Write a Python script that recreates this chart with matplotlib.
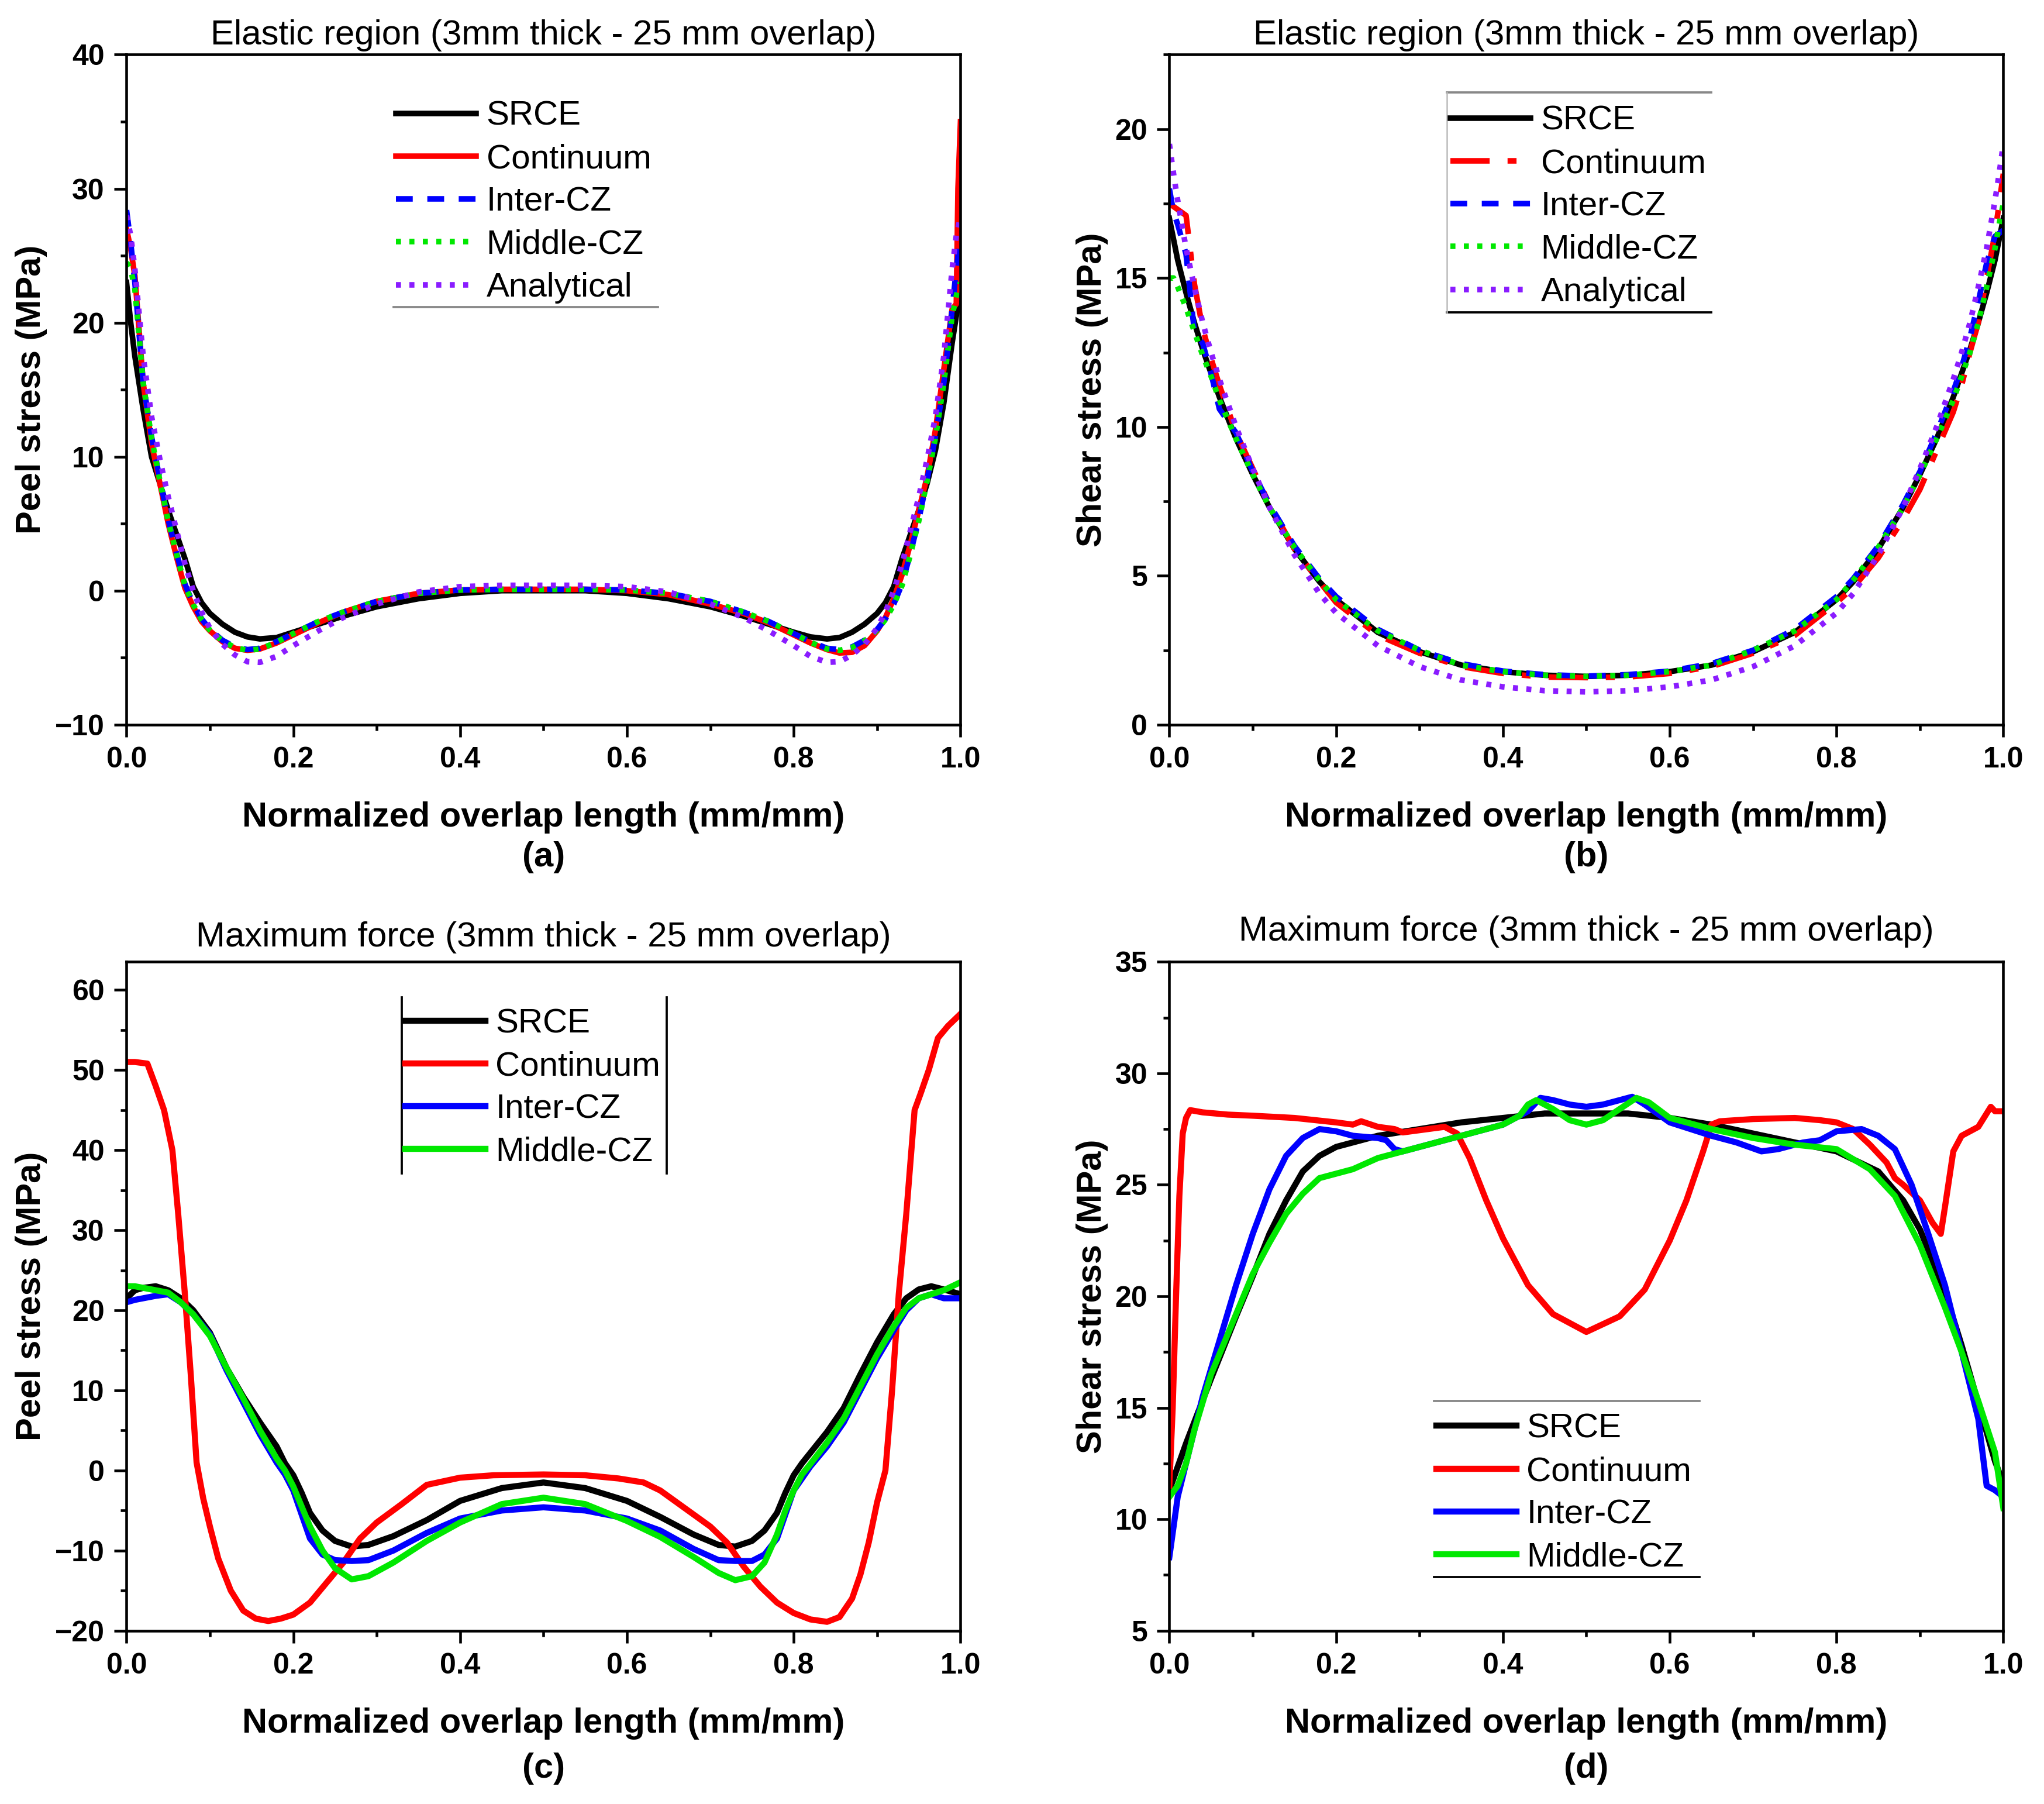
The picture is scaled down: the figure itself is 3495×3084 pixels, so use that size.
import matplotlib
matplotlib.use("Agg")
import matplotlib.pyplot as plt
from matplotlib.lines import Line2D
from matplotlib.ticker import MultipleLocator, FormatStrFormatter, FuncFormatter

plt.rcParams['font.family'] = ['Liberation Sans', 'DejaVu Sans']

# ---------------- data: panel (a) peel stress, elastic region ----------------
xa = [0, 0.005, 0.01, 0.02, 0.03, 0.04, 0.05, 0.06, 0.07, 0.08, 0.09, 0.10, 0.115, 0.13,
      0.145, 0.16, 0.18, 0.20, 0.23, 0.26, 0.30, 0.35, 0.40, 0.45, 0.50, 0.55, 0.60, 0.65,
      0.70, 0.74, 0.77, 0.80, 0.82, 0.84, 0.855, 0.87, 0.885, 0.90, 0.91, 0.92, 0.93, 0.94,
      0.95, 0.96, 0.97, 0.98, 0.99, 0.995, 0.997, 1.0]
a_srce = [23, 20, 17.5, 13.5, 10, 8, 6, 4.2, 2.4, 0.3, -0.9, -1.7, -2.5, -3.1, -3.45, -3.6,
          -3.5, -3.1, -2.5, -1.9, -1.2, -0.6, -0.2, 0, 0, 0, -0.2, -0.6, -1.2, -1.9, -2.5,
          -3.1, -3.45, -3.6, -3.5, -3.1, -2.5, -1.7, -0.9, 0.3, 2.4, 4.2, 6, 8, 10.5, 14,
          18.5, 20.5, 21.3, 22]
a_cont = [27, 25.5, 23.5, 15.5, 11, 8, 5, 2.5, 0.2, -1.2, -2.3, -3.0, -3.8, -4.3, -4.45,
          -4.35, -3.9, -3.3, -2.4, -1.6, -0.8, -0.2, 0.05, 0.1, 0.1, 0.1, 0.0, -0.3, -1.0,
          -1.7, -2.4, -3.3, -3.9, -4.4, -4.65, -4.6, -4.1, -3.0, -2.0, -0.6, 1.2, 3.5, 6,
          8.5, 12, 16.5, 21, 21.4, 30, 35]
a_inter = [28.4, 26, 23, 15.5, 11.5, 8.3, 5.3, 2.8, 0.5, -1.0, -2.1, -2.9, -3.7, -4.2, -4.4,
           -4.3, -3.8, -3.2, -2.3, -1.6, -0.8, -0.2, 0.05, 0.1, 0.1, 0.1, 0.05, -0.2, -0.8,
           -1.6, -2.3, -3.2, -3.8, -4.3, -4.4, -4.2, -3.7, -2.9, -2.1, -1.0, 0.5, 2.8, 5.3,
           8.3, 11.5, 15.5, 21, 24, 25, 26]
a_middle = [24.5, 24, 22.5, 15.5, 11.4, 8.2, 5.2, 2.7, 0.4, -1.05, -2.15, -2.95, -3.75,
            -4.25, -4.45, -4.35, -3.85, -3.2, -2.3, -1.6, -0.8, -0.2, 0.05, 0.1, 0.1, 0.1,
            0.05, -0.2, -0.8, -1.6, -2.3, -3.2, -3.85, -4.35, -4.45, -4.25, -3.75, -2.95,
            -2.15, -1.05, 0.4, 2.7, 5.2, 8.2, 11.4, 15.5, 20.5, 22, 22.5, 23]
a_anal = [28, 26.5, 24, 17.5, 13, 9.8, 7, 4.5, 2.0, 0, -1.6, -2.8, -4.0, -4.8, -5.3, -5.35,
          -4.9, -4.1, -3.0, -2.0, -1.0, -0.1, 0.3, 0.4, 0.4, 0.4, 0.3, -0.1, -1.0, -2.0,
          -3.0, -4.1, -4.9, -5.35, -5.3, -4.8, -4.0, -2.8, -1.6, 0, 2.0, 4.5, 7, 9.8, 13,
          17.5, 24, 26.5, 27, 28]

# ---------------- data: panel (b) shear stress, elastic region ----------------
xb = [0, 0.005, 0.01, 0.02, 0.03, 0.04, 0.05, 0.06, 0.08, 0.10, 0.12, 0.15, 0.18, 0.20,
      0.25, 0.30, 0.35, 0.40, 0.45, 0.50, 0.55, 0.60, 0.65, 0.70, 0.75, 0.80, 0.82, 0.85,
      0.88, 0.90, 0.92, 0.94, 0.95, 0.96, 0.97, 0.98, 0.99, 0.995, 1.0]
b_srce = [17, 16.3, 15.6, 14.5, 13.5, 12.6, 11.8, 11.0, 9.6, 8.4, 7.3, 5.9, 4.8, 4.2, 3.1,
          2.45, 2.0, 1.78, 1.66, 1.62, 1.66, 1.78, 2.0, 2.45, 3.1, 4.2, 4.8, 5.9, 7.3, 8.4,
          9.6, 11.0, 11.8, 12.6, 13.5, 14.5, 15.6, 16.3, 17]
b_cont = [17.5, 17.4, 17.3, 17.1, 14.8, 13.3, 12.3, 11.4, 9.8, 8.6, 7.4, 5.9, 4.8, 4.1, 3.0,
          2.4, 1.95, 1.72, 1.6, 1.58, 1.6, 1.72, 1.95, 2.4, 3.0, 4.1, 4.6, 5.6, 6.9, 7.9,
          9.2, 10.5, 11.4, 12.5, 13.5, 15.0, 16.5, 17.5, 18.5]
b_inter = [18, 17.2, 16.8, 15.8, 13.2, 12.8, 11.8, 10.6, 9.8, 8.5, 7.4, 6.0, 4.9, 4.3, 3.2,
           2.5, 2.05, 1.8, 1.68, 1.63, 1.68, 1.8, 2.05, 2.5, 3.2, 4.3, 4.9, 6.0, 7.4, 8.5,
           9.8, 11.2, 12.0, 13.0, 14.2, 15.5, 16.4, 16.5, 16.6]
b_middle = [15, 15, 14.7, 14, 13.2, 12.4, 11.7, 10.9, 9.6, 8.4, 7.3, 5.95, 4.85, 4.2, 3.15,
            2.5, 2.0, 1.78, 1.66, 1.62, 1.66, 1.78, 2.0, 2.5, 3.15, 4.2, 4.85, 5.95, 7.3,
            8.4, 9.6, 10.9, 11.7, 12.5, 13.5, 14.7, 16, 16.8, 17.5]
b_anal = [19.5, 18.5, 17.6, 16.0, 14.7, 13.5, 12.5, 11.6, 10.0, 8.6, 7.3, 5.7, 4.4, 3.75,
          2.65, 1.95, 1.5, 1.27, 1.14, 1.1, 1.14, 1.27, 1.5, 1.95, 2.65, 3.75, 4.4, 5.7,
          7.3, 8.6, 10.0, 11.6, 12.5, 13.5, 14.7, 16.0, 17.6, 18.5, 19.5]

# ---------------- data: panel (c) peel stress, maximum force ----------------
xc = [0, 0.01, 0.02, 0.035, 0.05, 0.065, 0.08, 0.10, 0.12, 0.14, 0.16, 0.18, 0.19, 0.20,
      0.21, 0.22, 0.235, 0.25, 0.27, 0.29, 0.32, 0.36, 0.40, 0.45, 0.50, 0.55, 0.60, 0.64,
      0.68, 0.71, 0.73, 0.75, 0.765, 0.78, 0.79, 0.80, 0.81, 0.82, 0.84, 0.86, 0.88, 0.90,
      0.92, 0.935, 0.95, 0.965, 0.98, 0.99, 1.0]
c_srce = [21.5, 22.5, 22.8, 23, 22.5, 21.5, 20, 17.2, 12.8, 9.2, 6, 3, 0.9, -0.6, -2.8, -5.3,
          -7.5, -8.8, -9.5, -9.3, -8.2, -6.2, -3.8, -2.2, -1.5, -2.2, -3.8, -5.8, -8.0, -9.3,
          -9.5, -8.8, -7.5, -5.3, -2.8, -0.6, 0.9, 2.2, 4.8, 7.8, 12, 16, 19.5, 21.5, 22.6,
          23, 22.6, 22.3, 22]
c_inter = [21, 21.3, 21.5, 21.8, 22, 21, 19.5, 17, 12.5, 8.5, 4.5, 1, -0.5, -2.5, -5.5, -8.5,
           -10.5, -11.2, -11.3, -11.2, -10, -7.8, -6, -5, -4.6, -5, -6, -7.5, -9.8, -11.2,
           -11.3, -11.3, -10.5, -8.5, -5.5, -2.5, -1, 0.5, 3, 6, 10, 14, 17.5, 20, 21.5, 22,
           21.5, 21.5, 21.5]
c_middle = [23, 23, 22.8, 22.5, 22.2, 21, 19.5, 16.8, 12.8, 9, 5, 1.5, 0, -2, -4.5, -7, -10,
            -12.2, -13.6, -13.2, -11.5, -8.8, -6.5, -4.2, -3.4, -4.2, -6.3, -8.3, -10.8,
            -12.8, -13.7, -13.2, -11.5, -8.0, -5, -2.5, -0.5, 0.8, 3.5, 6.5, 10.5, 14.5, 18,
            20.3, 21.5, 22, 22.5, 23, 23.5]
xc_cont = [0, 0.01, 0.025, 0.035, 0.045, 0.055, 0.062, 0.07, 0.077, 0.084, 0.092, 0.10,
           0.11, 0.125, 0.14, 0.155, 0.17, 0.185, 0.20, 0.22, 0.24, 0.26, 0.28, 0.30, 0.33,
           0.36, 0.40, 0.44, 0.50, 0.55, 0.59, 0.62, 0.64, 0.66, 0.68, 0.70, 0.72, 0.74,
           0.76, 0.78, 0.80, 0.82, 0.84, 0.855, 0.87, 0.88, 0.89, 0.90, 0.91, 0.918, 0.926,
           0.935, 0.945, 0.952, 0.962, 0.973, 0.985, 1.0]
c_cont = [51, 51, 50.8, 48, 45, 40, 32, 22, 12, 1, -3.5, -7, -11, -15, -17.5, -18.5, -18.8,
          -18.5, -18, -16.5, -14, -11.5, -8.5, -6.5, -4.2, -1.8, -0.9, -0.6, -0.5, -0.6,
          -1.0, -1.5, -2.5, -4, -5.5, -7, -9, -12, -14.5, -16.5, -17.8, -18.6, -18.9, -18.3,
          -16, -13, -9, -4, 0, 10, 22, 32, 45, 47, 50, 54, 55.5, 57]

# ---------------- data: panel (d) shear stress, maximum force ----------------
xd_srce = [0, 0.02, 0.05, 0.08, 0.10, 0.12, 0.14, 0.16, 0.18, 0.20, 0.25, 0.30, 0.35, 0.40,
           0.45, 0.50, 0.55, 0.60, 0.65, 0.70, 0.75, 0.80, 0.85, 0.88, 0.90, 0.93, 0.95,
           0.97, 0.99, 1.0]
d_srce = [11.3, 13.4, 16.3, 19.1, 20.9, 22.8, 24.3, 25.6, 26.3, 26.7, 27.2, 27.5, 27.8, 28.0,
          28.2, 28.2, 28.2, 28.0, 27.7, 27.3, 26.9, 26.5, 25.6, 24.3, 23.0, 20.2, 17.8, 15.2,
          12.6, 11.6]
xd_cont = [0, 0.004, 0.008, 0.012, 0.016, 0.02, 0.025, 0.04, 0.07, 0.10, 0.15, 0.20, 0.22,
           0.23, 0.25, 0.27, 0.28, 0.30, 0.33, 0.345, 0.36, 0.38, 0.40, 0.43, 0.46, 0.50,
           0.54, 0.57, 0.60, 0.62, 0.64, 0.65, 0.66, 0.70, 0.75, 0.78, 0.80, 0.82, 0.84,
           0.86, 0.87, 0.88, 0.90, 0.915, 0.925, 0.93, 0.94, 0.95, 0.97, 0.985, 0.99, 1.0]
d_cont = [11.5, 15, 20, 24.5, 27.3, 28.0, 28.35, 28.25, 28.15, 28.1, 28.0, 27.8, 27.7, 27.85,
          27.6, 27.5, 27.35, 27.45, 27.6, 27.3, 26.2, 24.3, 22.6, 20.5, 19.2, 18.4, 19.1,
          20.3, 22.5, 24.3, 26.5, 27.7, 27.85, 27.95, 28.0, 27.9, 27.8, 27.5, 26.8, 26.0,
          25.3, 25.0, 24.3, 23.3, 22.8, 24.0, 26.5, 27.2, 27.6, 28.5, 28.3, 28.3]
xd_inter = [0, 0.01, 0.02, 0.04, 0.06, 0.08, 0.10, 0.12, 0.14, 0.16, 0.18, 0.20, 0.22, 0.25,
            0.26, 0.27, 0.28, 0.30, 0.35, 0.40, 0.43, 0.445, 0.46, 0.48, 0.50, 0.52, 0.54,
            0.555, 0.57, 0.60, 0.65, 0.68, 0.71, 0.73, 0.76, 0.78, 0.80, 0.83, 0.85, 0.87,
            0.89, 0.91, 0.93, 0.95, 0.97, 0.98, 0.99, 1.0]
d_inter = [8.3, 11, 12.5, 15.5, 18, 20.5, 22.8, 24.8, 26.3, 27.1, 27.5, 27.4, 27.2, 27.1,
           27.0, 26.6, 26.5, 26.7, 27.2, 27.7, 28.3, 28.9, 28.8, 28.6, 28.5, 28.6, 28.8,
           28.95, 28.6, 27.8, 27.2, 26.9, 26.5, 26.6, 26.9, 27.0, 27.4, 27.5, 27.2, 26.6,
           25.0, 22.8, 20.5, 17.5, 14.5, 11.5, 11.3, 11.0]
xd_middle = [0, 0.01, 0.02, 0.03, 0.05, 0.07, 0.08, 0.10, 0.12, 0.14, 0.16, 0.18, 0.20, 0.22,
             0.25, 0.30, 0.35, 0.40, 0.42, 0.43, 0.44, 0.46, 0.48, 0.50, 0.52, 0.54, 0.56,
             0.575, 0.60, 0.65, 0.70, 0.75, 0.80, 0.84, 0.87, 0.90, 0.93, 0.95, 0.97, 0.99,
             1.0]
d_middle = [11, 11.5, 12.5, 14, 16.5, 18.3, 19.2, 21.0, 22.4, 23.7, 24.6, 25.3, 25.5, 25.7,
            26.2, 26.7, 27.2, 27.7, 28.1, 28.6, 28.8, 28.4, 27.9, 27.7, 27.9, 28.4, 28.9,
            28.7, 28.0, 27.5, 27.1, 26.8, 26.6, 25.7, 24.5, 22.3, 19.5, 17.5, 15.3, 13.0,
            10.5]

labels5 = ["SRCE", "Continuum", "Inter-CZ", "Middle-CZ", "Analytical"]
titles = ["Elastic region (3mm thick - 25 mm overlap)",
          "Elastic region (3mm thick - 25 mm overlap)",
          "Maximum force (3mm thick - 25 mm overlap)",
          "Maximum force (3mm thick - 25 mm overlap)"]
ylabels = ["Peel stress (MPa)", "Shear stress (MPa)", "Peel stress (MPa)", "Shear stress (MPa)"]
panel_tags = ["(a)", "(b)", "(c)", "(d)"]
xlabel = "Normalized overlap length (mm/mm)"

BLACK, RED, BLUE, GREEN, PURPLE = "#000000", "#FF0000", "#0000FF", "#00E800", "#8A1CFF"

fig = plt.figure(figsize=(3495 / 300, 3084 / 300), dpi=300)
W, H = 0.408, 0.3714
axA = fig.add_axes([0.0619, 0.5983, W, H])
axB = fig.add_axes([0.5721, 0.5983, W, H])
axC = fig.add_axes([0.0619, 0.0961, W, 0.3707])
axD = fig.add_axes([0.5721, 0.0961, W, 0.3707])
axes = [axA, axB, axC, axD]

lw_e = 2.3
# panel (a)
axA.plot(xa, a_srce, color=BLACK, lw=lw_e, label=labels5[0])
axA.plot(xa, a_cont, color=RED, lw=lw_e, label=labels5[1])
axA.plot(xa, a_inter, color=BLUE, lw=lw_e, dashes=(3, 2.6), label=labels5[2])
axA.plot(xa, a_middle, color=GREEN, lw=lw_e, dashes=(0.9, 1.5), label=labels5[3])
axA.plot(xa, a_anal, color=PURPLE, lw=lw_e, dashes=(0.9, 1.5), label=labels5[4])

# panel (b)
axB.plot(xb, b_srce, color=BLACK, lw=lw_e, label=labels5[0])
axB.plot(xb, b_cont, color=RED, lw=lw_e, dashes=(7, 3.2, 1.6, 3.2), label=labels5[1])
axB.plot(xb, b_inter, color=BLUE, lw=lw_e, dashes=(3, 2.6), label=labels5[2])
axB.plot(xb, b_middle, color=GREEN, lw=lw_e, dashes=(0.9, 1.5), label=labels5[3])
axB.plot(xb, b_anal, color=PURPLE, lw=lw_e, dashes=(0.9, 1.5), label=labels5[4])

lw_m = 2.5
# panel (c)
axC.plot(xc, c_srce, color=BLACK, lw=lw_m, label=labels5[0])
axC.plot(xc_cont, c_cont, color=RED, lw=lw_m, label=labels5[1])
axC.plot(xc, c_inter, color=BLUE, lw=lw_m, label=labels5[2])
axC.plot(xc, c_middle, color=GREEN, lw=lw_m, label=labels5[3])

# panel (d)
axD.plot(xd_srce, d_srce, color=BLACK, lw=lw_m, label=labels5[0])
axD.plot(xd_cont, d_cont, color=RED, lw=lw_m, label=labels5[1])
axD.plot(xd_inter, d_inter, color=BLUE, lw=lw_m, label=labels5[2])
axD.plot(xd_middle, d_middle, color=GREEN, lw=lw_m, label=labels5[3])

ylims = [(-10, 40), (0, 22.5), (-20, 63.5), (5, 35)]
ymaj = [10, 5, 10, 5]
title_y = [1.029, 1.029, 1.037, 1.045]
ylab_x = [-0.095, -0.073, -0.095, -0.073]
tag_y = [-0.198, -0.198, -0.206, -0.206]
for ax, t, yl, tag, lim, mj, ty, lx, tgy in zip(axes, titles, ylabels, panel_tags, ylims,
                                                 ymaj, title_y, ylab_x, tag_y):
    ax.set_xlim(0, 1)
    ax.set_ylim(*lim)
    ax.xaxis.set_major_locator(MultipleLocator(0.2))
    ax.xaxis.set_minor_locator(MultipleLocator(0.1))
    ax.yaxis.set_major_locator(MultipleLocator(mj))
    ax.yaxis.set_minor_locator(MultipleLocator(mj / 2))
    ax.tick_params(which='both', direction='out', top=False, right=False, width=1.1)
    ax.tick_params(which='major', length=5, labelsize=12, pad=4)
    ax.tick_params(which='minor', length=2.5)
    ax.xaxis.set_major_formatter(FormatStrFormatter('%.1f'))
    ax.yaxis.set_major_formatter(FuncFormatter(
        lambda v, p: ('%g' % v).replace('-', '\u2212')))
    for lab in ax.get_xticklabels() + ax.get_yticklabels():
        lab.set_fontweight('bold')
    for s in ax.spines.values():
        s.set_linewidth(1.1)
    ax.text(0.5, ty, t, transform=ax.transAxes, ha='center', va='center', fontsize=14.4)
    ax.set_ylabel(yl, fontsize=14.3, fontweight='bold')
    ax.yaxis.set_label_coords(lx, 0.5)
    ax.set_xlabel(xlabel, fontsize=14.3, fontweight='bold')
    ax.xaxis.set_label_coords(0.5, -0.1145)
    ax.text(0.5, tgy, tag, transform=ax.transAxes, ha='center', va='center',
            fontsize=14.3, fontweight='bold')

leg_kw = dict(frameon=False, fontsize=14, handlelength=2.35, handletextpad=0.3,
              labelspacing=0.33, borderpad=0, borderaxespad=0, loc='center left')
axA.legend(bbox_to_anchor=(0.323, 0.780), **leg_kw)
axB.legend(bbox_to_anchor=(0.337, 0.773), **leg_kw)
axC.legend(bbox_to_anchor=(0.334, 0.8115), **leg_kw)
axD.legend(bbox_to_anchor=(0.320, 0.2055), **leg_kw)

# legend box rules as in the original figure
def rule(ax, xs, ys, color, lw=0.9):
    ax.add_line(Line2D(xs, ys, transform=ax.transAxes, color=color, lw=lw, clip_on=False))

rule(axA, [0.32, 0.637], [0.623, 0.623], '#888888')
rule(axB, [0.333, 0.65], [0.944, 0.944], '#888888')
rule(axB, [0.333, 0.65], [0.615, 0.615], '#000000')
rule(axB, [0.333, 0.333], [0.615, 0.944], '#BBBBBB', 0.6)
rule(axC, [0.33, 0.33], [0.684, 0.947], '#000000')
rule(axC, [0.648, 0.648], [0.684, 0.947], '#000000')
rule(axD, [0.317, 0.636], [0.343, 0.343], '#888888')
rule(axD, [0.317, 0.636], [0.08, 0.08], '#000000')

fig.savefig("out.png", dpi=300, facecolor='white')
